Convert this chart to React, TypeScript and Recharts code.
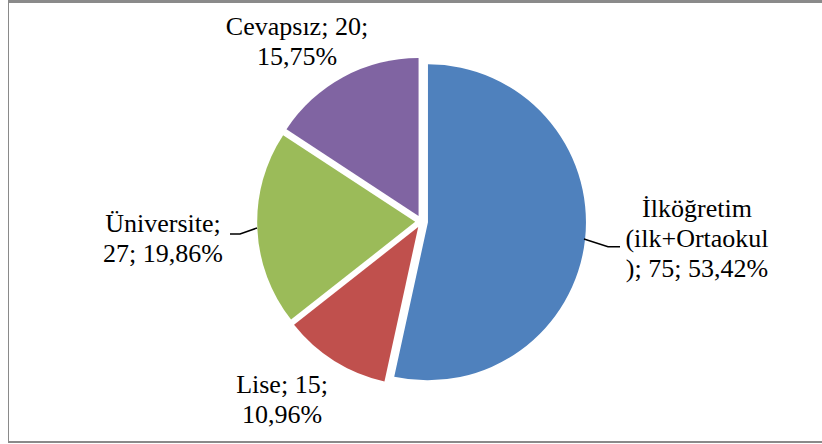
import React from 'react';
import { PieChart, Pie, Cell, Sector } from 'recharts';

const categories = ['İlköğretim (ilk+Ortaokul)', 'Lise', 'Üniversite', 'Cevapsız'];
const counts = [75, 15, 27, 20];
const percents = [53.42, 10.96, 19.86, 15.75];
const colors = ['#4F81BD', '#C0504D', '#9BBB59', '#8064A2'];
const labelLines = [
  ['İlköğretim', '(ilk+Ortaokul', '); 75; 53,42%'],
  ['Lise; 15;', '10,96%'],
  ['Üniversite;', '27; 19,86%'],
  ['Cevapsız; 20;', '15,75%'],
];

const data = categories.map((name, i) => ({ name, count: counts[i], value: percents[i] }));

const EXPLODE = 6.4;
const FONT = "'Times New Roman', 'Liberation Serif', serif";

const ExplodedSector = (props: any) => {
  const { cx, cy, midAngle, innerRadius, outerRadius, startAngle, endAngle, fill } = props;
  const rad = (-midAngle * Math.PI) / 180;
  const dx = EXPLODE * Math.cos(rad);
  const dy = EXPLODE * Math.sin(rad);
  return (
    <Sector
      cx={cx + dx}
      cy={cy + dy}
      innerRadius={innerRadius}
      outerRadius={outerRadius}
      startAngle={startAngle}
      endAngle={endAngle}
      fill={fill}
      stroke="none"
    />
  );
};

// label placement relative to pie center
const LAYOUT: { x: number; y0: number; leader?: number[][] }[] = [
  { x: 275.4, y0: -4.6, leader: [[162.4, 17.4], [186.4, 25.1], [198.4, 25.1]] },
  { x: -139.6, y0: 171.4 },
  { x: -258.6, y0: 10.4, leader: [[-191.6, 12.4], [-181.6, 12.4], [-164.6, 6.4]] },
  { x: -124.6, y0: -186.6 },
];
const LINE_H = 30;

const renderLabel = (props: any) => {
  const { cx, cy, index } = props;
  const L = LAYOUT[index];
  const lines = labelLines[index];
  return (
    <g key={`lbl-${index}`}>
      {L.leader && (
        <polyline
          points={L.leader.map((p) => `${cx + p[0]},${cy + p[1]}`).join(' ')}
          fill="none"
          stroke="#000"
          strokeWidth={1.5}
        />
      )}
      <text
        x={cx + L.x}
        y={cy + L.y0}
        textAnchor="middle"
        style={{ fontFamily: FONT, fontSize: 26 }}
        fill="#000"
      >
        {lines.map((t, j) => (
          <tspan key={j} x={cx + L.x} y={cy + L.y0 + j * LINE_H}>
            {t}
          </tspan>
        ))}
      </text>
    </g>
  );
};

export default function App() {
  return (
    <div style={{ position: 'absolute', left: 8, top: 0, width: 814, height: 444, overflow: 'hidden', background: '#fff' }}>
      <div style={{ position: 'absolute', left: -1, top: 0, width: 830, height: 3, background: '#8a8a8a' }} />
      <div style={{ position: 'absolute', left: -1, top: 0, width: 2, height: 443, background: '#8a8a8a' }} />
      <div style={{ position: 'absolute', left: -1, top: 441, width: 830, height: 2, background: '#8a8a8a' }} />
      <div style={{ position: 'absolute', left: 0, top: 0 }}>
        <PieChart width={814} height={444} margin={{ top: 0, right: 0, bottom: 0, left: 0 }}>
          <Pie
            data={data}
            dataKey="value"
            nameKey="name"
            cx={413.6}
            cy={221.6}
            innerRadius={0}
            outerRadius={158}
            startAngle={90}
            endAngle={-270}
            stroke="none"
            isAnimationActive={false}
            shape={ExplodedSector}
            activeShape={ExplodedSector}
            inactiveShape={ExplodedSector}
            label={renderLabel}
            labelLine={false}
          >
            {data.map((d, i) => (
              <Cell key={d.name} fill={colors[i]} />
            ))}
          </Pie>
        </PieChart>
      </div>
    </div>
  );
}
